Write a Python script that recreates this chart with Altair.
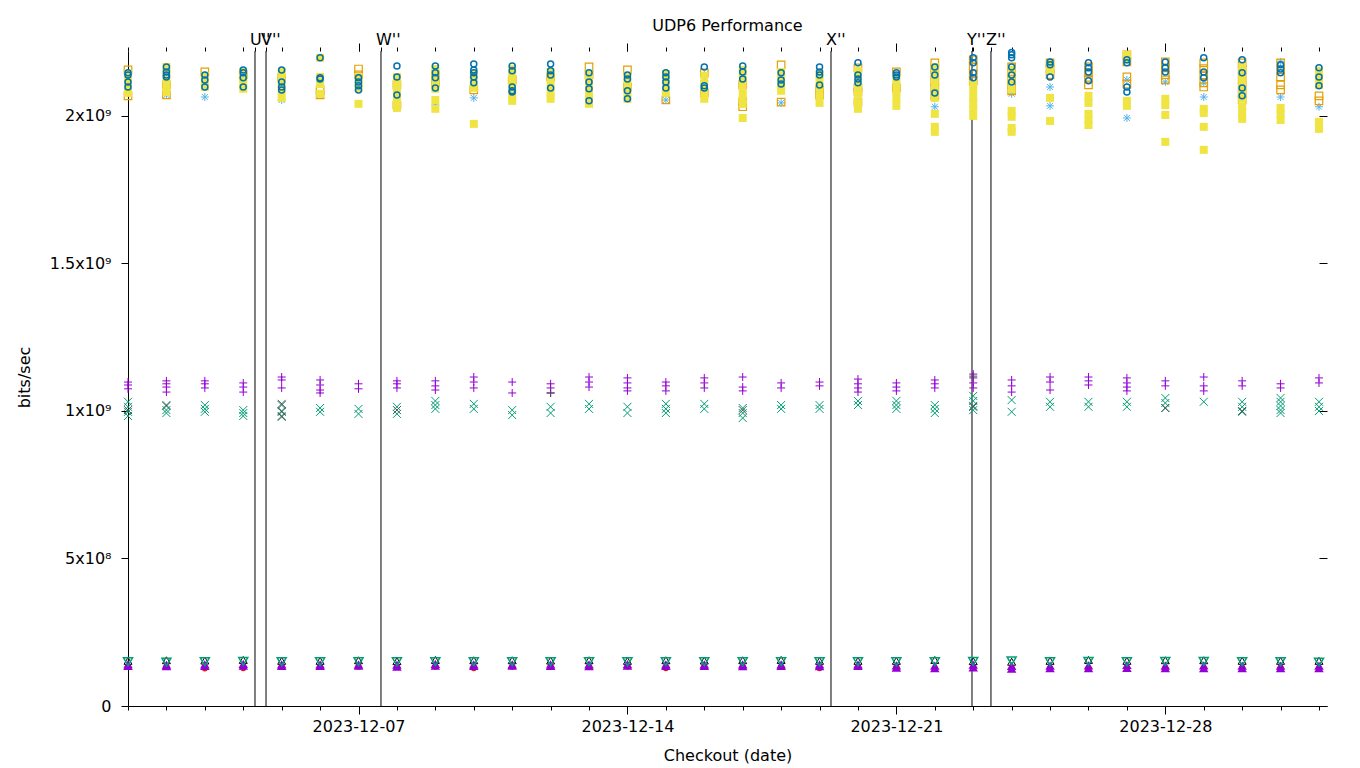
import altair as alt
import pandas as pd
from datetime import date, timedelta

# ---------------- data (values in units of 1e9 bits/sec) ----------------
FIRST_DAY = date(2023, 12, 1)
N_DAYS = 32
X_END = (2024, 1, 1, 5)  # right end of the time axis (y, m, d, h)
MAJOR_TICK_DAYS = [date(2023, 12, 7), date(2023, 12, 14), date(2023, 12, 21), date(2023, 12, 28)]
Y_TICKS = [0, 5e8, 1e9, 1.5e9, 2e9]
Y_TICK_LABELS = ["0", "5x10⁸", "1x10⁹", "1.5x10⁹", "2x10⁹"]
Y_MAX = 2.22e9

EVENT_NAMES = ["U''", "V''", "W''", "X''", "Y''", "Z''"]
EVENT_TIMES = ["2023-12-04T07:20:00Z", "2023-12-04T14:13:00Z", "2023-12-07T14:02:00Z",
               "2023-12-19T07:09:00Z", "2023-12-22T23:14:00Z", "2023-12-23T11:05:00Z"]

PURPLE_PLUS = [
    [1.098, 1.088, 1.075], [1.102, 1.092, 1.081, 1.064], [1.102, 1.092, 1.078], [1.095, 1.081, 1.064],
    [1.115, 1.105, 1.078], [1.105, 1.088, 1.071, 1.061], [1.092, 1.075], [1.102, 1.092, 1.078],
    [1.102, 1.085, 1.071], [1.115, 1.098, 1.078], [1.098, 1.061], [1.092, 1.078, 1.061],
    [1.115, 1.098, 1.081], [1.112, 1.095, 1.078, 1.068], [1.098, 1.085, 1.068], [1.112, 1.095, 1.078],
    [1.115, 1.081, 1.068], [1.095, 1.078], [1.098, 1.085], [1.108, 1.092, 1.078, 1.064],
    [1.095, 1.081, 1.068], [1.105, 1.092, 1.078], [1.125, 1.112, 1.095, 1.078], [1.105, 1.085, 1.064],
    [1.115, 1.098, 1.071], [1.115, 1.102, 1.088], [1.112, 1.095, 1.081, 1.068], [1.102, 1.085],
    [1.115, 1.085, 1.068], [1.102, 1.085], [1.092, 1.078], [1.112, 1.095],
]
GREEN_CROSS = [
    [1.031, 1.014, 0.997, 0.983], [1.020, 1.003, 0.993], [1.020, 1.007, 0.997], [1.003, 0.993, 0.983],
    [1.020, 1.000, 0.983], [1.010, 0.997], [1.007, 0.990], [1.014, 0.990],
    [1.034, 1.020, 1.007], [1.024, 1.007], [1.003, 0.986], [1.014, 0.993],
    [1.024, 1.007], [1.014, 0.993], [1.024, 1.007, 0.993], [1.024, 1.007],
    [1.010, 0.993, 0.976], [1.020, 1.007], [1.020, 1.007], [1.034, 1.020],
    [1.034, 1.020, 1.007], [1.020, 1.007, 0.993], [1.051, 1.034, 1.017, 1.003], [1.037, 0.997],
    [1.031, 1.014], [1.031, 1.014], [1.031, 1.014], [1.044, 1.027, 1.010],
    [1.031], [1.031, 1.014, 0.997], [1.044, 1.031, 1.017, 1.003, 0.993], [1.031, 1.014, 1.000],
]
GRAY_PLUS_DAYS = [11, 22]
GRAY_PLUS_VALUES = [1.061, 1.118]
GRAY_CROSS_DAYS = [0, 1, 4, 4, 4, 7, 16, 22, 27, 29]
GRAY_CROSS_VALUES = [1.003, 1.017, 1.024, 0.997, 0.980, 1.003, 1.003, 1.014, 1.010, 1.000]

LIGHTBLUE_STAR = [
    [2.088], [2.071], [2.064], [], [2.054], [2.071], [2.112], [2.088],
    [2.037], [2.061], [2.122], [], [2.051], [], [2.054], [2.139, 2.119],
    [2.105, 2.041], [2.044], [2.068], [2.085, 2.044], [2.088], [2.061, 2.031], [2.054, 2.031], [2.075],
    [2.098, 2.034], [2.054], [2.122, 1.993], [2.115], [2.112, 2.064], [], [2.183, 2.064], [2.031],
]
ORANGE_SQUARE = [
    [2.156, 2.068], [2.105, 2.071], [2.149], [2.140], [2.129], [2.088, 2.071], [2.159, 2.139], [2.105, 2.037],
    [2.112, 2.140], [2.088], [2.122], [2.132], [2.166, 2.140], [2.156, 2.098], [2.054], [2.146, 2.078],
    [2.105, 2.047, 2.031], [2.173, 2.047], [2.088, 2.071], [2.163, 2.095, 2.081, 2.047],
    [2.149, 2.095], [2.180, 2.163, 2.139, 2.115, 2.095, 2.068], [2.190, 2.166, 2.142, 2.119],
    [2.166, 2.146, 2.125, 2.105, 2.085], [2.180, 2.160, 2.140], [2.166, 2.146, 2.125, 2.105],
    [2.207, 2.183, 2.132, 2.108], [2.183, 2.163, 2.140, 2.122], [2.180, 2.160, 2.139, 2.112, 2.098],
    [2.180, 2.156, 2.129, 2.102, 2.075, 2.054], [2.180, 2.156, 2.132, 2.105, 2.088], [2.068, 2.051],
]
YELLOW_SQUARE = [
    [2.142, 2.122, 2.102, 2.078], [2.166, 2.146, 2.125, 2.105, 2.081], [2.136, 2.115, 2.098],
    [2.149, 2.129, 2.108, 2.092], [2.149, 2.129, 2.108, 2.088, 2.061], [2.197, 2.132, 2.108, 2.075],
    [2.132, 2.108, 2.095, 2.041], [2.132, 2.108, 2.081, 2.054, 2.027],
    [2.159, 2.139, 2.115, 2.092, 2.054, 2.024], [2.142, 2.122, 2.095, 1.973],
    [2.159, 2.139, 2.115, 2.092, 2.068, 2.051], [2.149, 2.129, 2.102, 2.078, 2.058],
    [2.142, 2.122, 2.095, 2.068, 2.041], [2.136, 2.112, 2.085, 2.058], [2.142, 2.119, 2.092, 2.078],
    [2.136, 2.108, 2.081, 2.058], [2.156, 2.129, 2.102, 2.075, 2.054, 2.041, 1.993],
    [2.149, 2.125, 2.102, 2.085], [2.142, 2.119, 2.095, 2.068, 2.044],
    [2.153, 2.129, 2.102, 2.075, 2.047, 2.024], [2.132, 2.108, 2.081, 2.058, 2.034],
    [2.166, 2.142, 2.115, 2.088, 2.061, 2.007, 1.963, 1.946], [2.108, 2.081, 2.054, 2.027, 2.000],
    [2.156, 2.122, 2.090, 2.017, 1.997, 1.959, 1.946], [2.176, 2.156, 2.061, 1.983],
    [2.068, 2.044, 2.007, 1.986, 1.969], [2.207, 2.190, 2.051, 2.034], [2.058, 2.037, 2.003, 1.912],
    [2.024, 2.010, 1.963, 1.885], [2.166, 2.139, 2.112, 2.085, 2.058, 2.031, 2.010, 1.990],
    [2.027, 2.007, 1.986], [2.153, 2.129, 2.105, 1.980, 1.956],
]
BLUE_CIRCLE = [
    [2.146, 2.139, 2.115, 2.098], [2.166, 2.149, 2.139, 2.132], [2.139, 2.122, 2.098], [2.156, 2.146, 2.129, 2.098],
    [2.156, 2.115, 2.098, 2.088], [2.197, 2.129, 2.125], [2.129, 2.115, 2.102, 2.088], [2.169, 2.132, 2.071],
    [2.169, 2.146, 2.129, 2.095], [2.176, 2.156, 2.146, 2.132, 2.112], [2.169, 2.153, 2.098, 2.085, 2.081],
    [2.176, 2.153, 2.139, 2.095], [2.146, 2.115, 2.092, 2.051], [2.139, 2.125, 2.085, 2.058],
    [2.146, 2.132, 2.115, 2.095], [2.166, 2.102, 2.095], [2.169, 2.149, 2.125], [2.146, 2.122, 2.108],
    [2.166, 2.149, 2.139, 2.105], [2.180, 2.139, 2.125, 2.112], [2.146, 2.139, 2.132], [2.166, 2.139, 2.078],
    [2.197, 2.180, 2.146, 2.129], [2.215, 2.207, 2.197, 2.166, 2.139, 2.115], [2.183, 2.173, 2.132],
    [2.180, 2.163, 2.149, 2.119], [2.190, 2.180, 2.098, 2.081], [2.183, 2.163, 2.149], [2.197, 2.149, 2.129],
    [2.190, 2.146, 2.095, 2.068], [2.173, 2.159, 2.146], [2.163, 2.132, 2.102],
]
RED_DOT = [0.133, 0.133, 0.127, 0.128, 0.133, 0.133, 0.133, 0.133, 0.133, 0.128, 0.133, 0.133,
           0.133, 0.133, 0.128, 0.133, 0.133, 0.133, 0.128, 0.133, 0.133, 0.127, 0.130, 0.130,
           0.127, 0.126, 0.130, 0.130, 0.128, 0.130, 0.130, 0.127]
BLACK_TRIANGLE = [0.153, 0.155, 0.154, 0.156, 0.153, 0.153, 0.155, 0.152, 0.156, 0.155, 0.155, 0.154,
                  0.155, 0.153, 0.155, 0.154, 0.155, 0.156, 0.153, 0.153, 0.153, 0.156, 0.152, 0.150,
                  0.153, 0.156, 0.153, 0.155, 0.155, 0.153, 0.153, 0.153]
PURPLE_TRIANGLE = [
    [0.142, 0.136], [0.140, 0.135], [0.141, 0.136], [0.143, 0.137], [0.141, 0.136], [0.141, 0.136],
    [0.141, 0.137], [0.140, 0.133], [0.143, 0.137], [0.141, 0.136], [0.141, 0.137], [0.141, 0.136],
    [0.141, 0.135], [0.142, 0.137], [0.141, 0.136], [0.141, 0.136], [0.141, 0.135], [0.141, 0.136],
    [0.141, 0.135], [0.141, 0.136], [0.138, 0.130], [0.137, 0.128], [0.140, 0.131], [0.136, 0.127],
    [0.137, 0.128], [0.138, 0.128], [0.139, 0.129], [0.137, 0.128], [0.138, 0.128], [0.137, 0.128],
    [0.137, 0.128], [0.137, 0.128],
]
GREEN_TRIANGLE = [0.150, 0.149, 0.150, 0.151, 0.150, 0.150, 0.150, 0.150, 0.150, 0.150, 0.150, 0.150,
                  0.150, 0.150, 0.150, 0.150, 0.150, 0.150, 0.150, 0.150, 0.150, 0.150, 0.151, 0.153,
                  0.150, 0.151, 0.150, 0.151, 0.151, 0.150, 0.150, 0.149]

# ---------------- helpers ----------------
def day_iso(d):
    return (FIRST_DAY + timedelta(days=d)).isoformat() + "T00:00:00Z"


def dt(dy):
    return alt.DateTime(year=dy.year, month=dy.month, date=dy.day, utc=True)


def frame_from_lists(per_day):
    rows = []
    for d, vals in enumerate(per_day):
        if not isinstance(vals, list):
            vals = [vals]
        for v in vals:
            rows.append({"t": day_iso(d), "v": v * 1e9})
    return pd.DataFrame(rows, columns=["t", "v"])


def frame_from_pairs(days, vals):
    return pd.DataFrame({"t": [day_iso(d) for d in days], "v": [v * 1e9 for v in vals]})


PLUS = "M-1,0L1,0M0,-1L0,1"
CROSS = "M-1,-1L1,1M1,-1L-1,1"
STAR = "M-1,0L1,0M0,-1L0,1M-0.75,-0.75L0.75,0.75M0.75,-0.75L-0.75,0.75"

FONT = "DejaVu Sans"
x_scale = alt.Scale(type="utc", domain=[dt(FIRST_DAY),
                                        alt.DateTime(year=X_END[0], month=X_END[1], date=X_END[2],
                                                     hours=X_END[3], utc=True)])
y_scale = alt.Scale(domain=[0, Y_MAX], nice=False, zero=True)

common = dict(domainColor="black", tickColor="black", labelColor="black", titleColor="black",
              labelFont=FONT, titleFont=FONT, labelFontSize=16, titleFontSize=16,
              titleFontWeight="normal", grid=False, tickWidth=1, domainWidth=1)

day_values = [dt(FIRST_DAY + timedelta(days=d)) for d in range(N_DAYS)]
major_values = [dt(d) for d in MAJOR_TICK_DAYS]
event_values = [alt.DateTime(year=int(s[0:4]), month=int(s[5:7]), date=int(s[8:10]),
                             hours=int(s[11:13]), minutes=int(s[14:16]), utc=True) for s in EVENT_TIMES]

label_expr = " : ".join(
    [f"datum.value == {v} ? '{l}'" for v, l in zip(Y_TICKS, Y_TICK_LABELS)]) + " : ''"

axis_x_major = alt.Axis(orient="bottom", values=major_values, tickSize=8, labelPadding=4,
                        labelExpr="utcFormat(datum.value, '%Y-%m-%d')", labelFlush=False,
                        labelOverlap=False, title="Checkout (date)", titleY=49,
                        titleBaseline="middle", domain=True, **common)
axis_x_minor = alt.Axis(orient="bottom", values=day_values, tickSize=4, labels=False,
                        domain=False, title=None, **common)
axis_x_top_minor = alt.Axis(orient="top", values=day_values + event_values, tickSize=4,
                            labels=False, domain=False, title=None, **common)
axis_x_top_major = alt.Axis(orient="top", values=major_values, tickSize=8, labels=False,
                            domain=False, title=None, **common)
axis_y_left = alt.Axis(orient="left", values=Y_TICKS, labelExpr=label_expr, tickSize=7,
                       labelPadding=10, labelFlush=False, labelOverlap=False, title="bits/sec",
                       titleX=-104, titleY=326, titleAngle=270, titleAlign="center",
                       titleBaseline="middle", domain=True, **common)
axis_y_right = alt.Axis(orient="right", values=Y_TICKS, labels=False, tickSize=8, offset=-8,
                        domain=False, title=None, **common)

series = [
    # data, shape, filled, color, size, strokeWidth
    (frame_from_lists(PURPLE_PLUS), PLUS, False, "#9400d3", 64, 1),
    (frame_from_lists(GREEN_CROSS), CROSS, False, "#009e73", 64, 1),
    (frame_from_pairs(GRAY_PLUS_DAYS, GRAY_PLUS_VALUES), PLUS, False, "#505050", 64, 1),
    (frame_from_pairs(GRAY_CROSS_DAYS, GRAY_CROSS_VALUES), CROSS, False, "#505050", 64, 1),
    (frame_from_lists(LIGHTBLUE_STAR), STAR, False, "#56b4e9", 64, 1),
    (frame_from_lists(ORANGE_SQUARE), "square", False, "#e69f00", 56, 1.2),
    (frame_from_lists(YELLOW_SQUARE), "square", True, "#f0e442", 64, 0),
    (frame_from_lists(BLUE_CIRCLE), "circle", False, "#0072b2", 36, 1.5),
    (frame_from_lists(RED_DOT), "circle", True, "#e51e10", 36, 0),
    (frame_from_lists(BLACK_TRIANGLE), "triangle-up", False, "#000000", 64, 1),
    (frame_from_lists(PURPLE_TRIANGLE), "triangle-up", True, "#9400d3", 90, 0),
    (frame_from_lists(GREEN_TRIANGLE), "triangle-down", False, "#009e73", 81, 1.5),
]

x_axes = [axis_x_major, axis_x_minor, axis_x_top_minor, axis_x_top_major]
y_axes = [axis_y_left, axis_y_right]

events = pd.DataFrame({"t": EVENT_TIMES, "name": EVENT_NAMES})
rules = alt.Chart(events).mark_rule(color="black", strokeWidth=1).encode(
    x=alt.X("t:T", scale=x_scale, axis=None))
labels = alt.Chart(events).mark_text(align="left", baseline="middle", dx=-5, fontSize=16,
                                     font=FONT, color="black").encode(
    x=alt.X("t:T", scale=x_scale, axis=None), y=alt.value(-11), text="name:N")

layers = [rules]
for i, (df, shape, filled, color, size, sw) in enumerate(series):
    xa = x_axes[i] if i < len(x_axes) else None
    ya = y_axes[i] if i < len(y_axes) else None
    mk = dict(shape=shape, filled=filled, size=size, opacity=1, color=color)
    mk["strokeWidth"] = 0 if filled else sw
    layers.append(
        alt.Chart(df).mark_point(**mk).encode(
            x=alt.X("t:T", scale=x_scale, axis=xa),
            y=alt.Y("v:Q", scale=y_scale, axis=ya),
        )
    )
layers.append(labels)

chart = alt.layer(*layers).resolve_axis(x="independent", y="independent").properties(
    width=1199, height=655,
    padding={"left": 120, "top": 43, "right": 25, "bottom": 60},
    autosize=alt.AutoSizeParams(type="none"),
    title=alt.TitleParams("UDP6 Performance", font=FONT, fontSize=16, fontWeight="normal",
                          color="black", anchor="middle", offset=-2),
).configure(font=FONT).configure_view(strokeWidth=0, stroke="transparent")

chart.save("out.html", embed_options={"renderer": "svg", "actions": False})
